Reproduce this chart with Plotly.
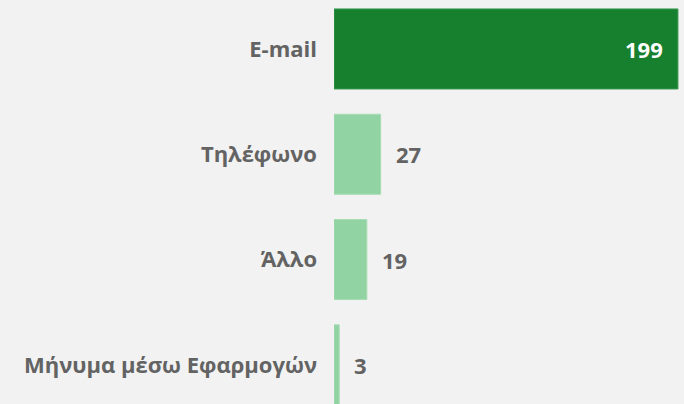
import plotly.graph_objects as go

categories = ["E-mail", "Τηλέφωνο", "Άλλο", "Μήνυμα μέσω Εφαρμογών"]
values = [199, 27, 19, 3]
highlight = [True, False, False, False]

dark = "#17802f"
light = "#92d3a3"
grey = "#636363"
font_family = "Open Sans"

colors = [dark if h else light for h in highlight]
line_colors = ["#3a9a50" if h else "#a6dcb4" for h in highlight]

fig = go.Figure()
fig.add_trace(go.Bar(
    y=categories,
    x=values,
    orientation="h",
    marker=dict(color=colors, line=dict(color=line_colors, width=1)),
    hoverinfo="skip",
))

annotations = []
for c, v, h in zip(categories, values, highlight):
    if h:
        annotations.append(dict(x=v, y=c, text=f"<b>{v}</b>", showarrow=False,
                                xanchor="right", xshift=-13,
                                font=dict(color="white", size=22, family=font_family)))
    else:
        annotations.append(dict(x=v, y=c, text=f"<b>{v}</b>", showarrow=False,
                                xanchor="left", xshift=13,
                                font=dict(color=grey, size=22, family=font_family)))

fig.update_layout(
    width=684, height=404,
    margin=dict(l=334, r=0, t=0, b=0),
    paper_bgcolor="#f2f2f2",
    plot_bgcolor="#f2f2f2",
    bargap=0.24,
    showlegend=False,
    annotations=annotations,
    xaxis=dict(range=[0, 202.5], visible=False, fixedrange=True),
    yaxis=dict(
        type="category",
        range=[3.372, -0.465],
        autorange=False,
        showgrid=False, zeroline=False, showline=False,
        ticks="",
        ticklabelstandoff=16,
        tickfont=dict(color=grey, size=22, family=font_family, weight="bold"),
        fixedrange=True,
    ),
)

fig.write_html("out.html", config={"displayModeBar": False},
               post_script="document.body.style.margin='0';document.body.style.background='#f2f2f2';")
